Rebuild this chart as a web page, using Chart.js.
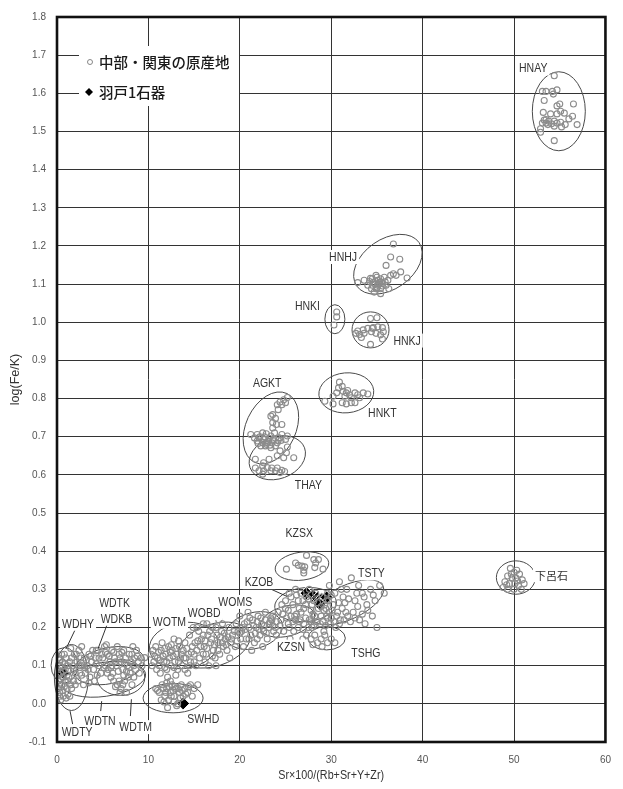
<!DOCTYPE html>
<html>
<head>
<meta charset="utf-8">
<script src="https://cdn.jsdelivr.net/npm/chart.js@4/dist/chart.umd.min.js"></script>
<style>
  html, body { margin: 0; padding: 0; background: #fff; }
  canvas { display: block; }
</style>
</head>
<body>
<canvas id="chart" width="623" height="789"></canvas>
<script>
// axis ticks
const xTicks = [0, 10, 20, 30, 40, 50, 60];
const yTicks = [-0.1, 0, 0.1, 0.2, 0.3, 0.4, 0.5, 0.6, 0.7, 0.8, 0.9, 1.0, 1.1, 1.2, 1.3, 1.4, 1.5, 1.6, 1.7, 1.8];

const legendLabels = ['中部・関東の原産地', '羽戸1石器'];

// source samples, [x, y] = [Sr×100/(Rb+Sr+Y+Zr), log(Fe/K)]
const hnay = [[54.4,1.646],[53.1,1.605],[53.5,1.605],[54.2,1.605],[54.7,1.609],[54.3,1.598],[53.3,1.581],[55.0,1.572],
  [54.7,1.567],[56.5,1.572],[53.2,1.550],[54.0,1.546],[54.7,1.546],[55.1,1.553],[55.5,1.548],[56.4,1.540],[56.0,1.533],
  [53.5,1.531],[53.8,1.527],[54.4,1.527],[53.1,1.522],[53.5,1.522],[54.1,1.520],[54.7,1.522],[55.1,1.524],[55.6,1.518],
  [56.9,1.518],[54.4,1.514],[55.2,1.512],[52.9,1.507],[52.9,1.498],[54.4,1.476],[53.7,1.518],[53.3,1.530]];
const hnhj = [[36.8,1.205],[36.5,1.171],[37.5,1.165],[36.0,1.149],[37.6,1.132],[36.8,1.127],[38.3,1.116],[32.9,1.104],
  [33.6,1.110],[34.2,1.107],[34.5,1.114],[34.9,1.123],[35.1,1.110],[35.4,1.114],[35.8,1.118],[36.2,1.110],[35.6,1.101],
  [35.1,1.097],[34.5,1.097],[34.4,1.088],[34.9,1.088],[35.4,1.088],[36.3,1.088],[34.7,1.079],[35.4,1.075],[34.0,1.097],
  [36.0,1.097],[35.3,1.104],[36.5,1.123],[37.1,1.123],[34.8,1.100],[35.2,1.100],[35.6,1.095],[35.0,1.118],[35.5,1.105],
  [34.6,1.105],[35.9,1.106],[34.3,1.115],[35.0,1.090]];
const hnki = [[30.6,1.027],[30.6,1.014],[30.3,0.993]];
const hnkj = [[34.3,1.010],[35.0,1.012],[34.6,0.986],[35.1,0.988],[35.6,0.986],[34.0,0.984],[33.5,0.980],[32.9,0.977],
  [32.7,0.971],[33.1,0.968],[33.6,0.971],[34.4,0.975],[34.9,0.971],[35.4,0.967],[35.7,0.975],[33.3,0.960],[35.6,0.956],
  [34.3,0.942],[34.5,0.984]];
const hnkt = [[30.9,0.843],[31.2,0.832],[30.8,0.828],[30.6,0.815],[30.2,0.806],[29.3,0.793],[30.2,0.786],[31.3,0.819],
  [31.65,0.815],[31.8,0.821],[31.5,0.806],[32.0,0.810],[32.2,0.802],[32.6,0.815],[32.9,0.810],[33.5,0.815],[34.0,0.812],
  [33.1,0.802],[31.65,0.786],[31.2,0.789],[32.2,0.789],[32.6,0.789]];
const agkt = [[25.2,0.803],[24.8,0.797],[24.4,0.791],[24.1,0.784],[24.6,0.784],[25.0,0.789],[24.2,0.771],[23.6,0.758],
  [23.4,0.754],[23.9,0.748],[23.6,0.737],[24.0,0.732],[24.6,0.732],[23.6,0.723],[23.8,0.710],[23.4,0.702],[22.9,0.708],
  [22.5,0.710],[21.9,0.706],[21.2,0.706],[21.6,0.697],[22.1,0.697],[22.6,0.693],[23.2,0.696],[23.7,0.693],[24.3,0.697],
  [24.6,0.706],[25.2,0.702],[21.9,0.689],[22.5,0.684],[23.0,0.684],[23.5,0.684],[24.1,0.684],[24.5,0.690],[22.3,0.676],
  [22.8,0.676],[23.4,0.671],[23.9,0.676],[25.0,0.693],[22.2,0.700],[22.7,0.700],[23.1,0.688],[23.6,0.690],[22.9,0.680],
  [23.3,0.678],[22.0,0.682],[24.2,0.690]];
const thay = [[25.2,0.673],[24.4,0.663],[25.1,0.658],[24.1,0.650],[24.8,0.645],[25.9,0.645],[23.2,0.641],[21.7,0.641],
  [22.6,0.632],[22.5,0.624],[21.7,0.618],[23.0,0.619],[23.5,0.618],[24.1,0.618],[23.4,0.611],[23.9,0.611],[22.1,0.611],
  [22.6,0.611],[24.6,0.612],[24.4,0.606],[24.9,0.609],[22.5,0.602]];
const kzsx = [[27.3,0.389],[26.1,0.369],[26.4,0.363],[26.8,0.361],[27.1,0.359],[27.0,0.350],[28.1,0.378],[28.6,0.378],
  [28.3,0.369],[28.2,0.357],[29.1,0.353],[25.1,0.353],[27.0,0.343]];
const gero = [[49.6,0.355],[50.0,0.345],[50.3,0.350],[49.3,0.335],[49.8,0.330],[50.2,0.330],[50.6,0.340],[50.9,0.325],
  [49.0,0.320],[49.5,0.315],[50.1,0.315],[50.5,0.310],[51.1,0.315],[48.8,0.305],[49.3,0.300],[50.0,0.300],[50.8,0.300],
  [49.7,0.340],[50.4,0.322],[49.2,0.312]];
const wdWest = [[0.2,0.12],[0.3,0.10],[0.4,0.08],[0.2,0.06],[0.5,0.05],[0.3,0.03],[0.6,0.11],[0.8,0.13],[1.0,0.12],
  [1.2,0.10],[0.9,0.09],[1.3,0.07],[1.5,0.05],[1.1,0.04],[0.7,0.02],[0.4,0.01],[1.0,0.015],[1.4,0.02],[1.6,0.04],
  [1.8,0.06],[2.0,0.08],[1.7,0.10],[2.2,0.11],[1.9,0.13],[2.4,0.14],[2.6,0.12],[2.8,0.10],[2.5,0.08],[2.3,0.06],
  [0.1,0.09],[0.6,0.07],[1.2,0.06],[0.8,0.045],[2.7,0.15],[1.5,0.145],[0.3,0.115],[0.5,0.095],[0.7,0.085],[0.2,0.075],
  [0.4,0.065],[0.9,0.06],[1.1,0.075],[1.3,0.09],[0.6,0.035],[0.2,0.04],[1.2,0.025],[1.8,0.09],[2.1,0.13],[2.4,0.10],
  [2.0,0.05],[0.5,0.13],[1.6,0.12],[1.4,0.11],[0.9,0.105],[0.3,0.02]];
const wdEast = [[3.0,0.12],[3.3,0.10],[3.5,0.13],[3.8,0.11],[4.0,0.09],[4.2,0.12],[4.5,0.14],[4.6,0.10],[4.8,0.08],
  [5.0,0.12],[5.2,0.15],[5.3,0.10],[5.5,0.13],[5.6,0.09],[5.8,0.11],[6.0,0.14],[6.1,0.08],[6.3,0.12],[6.5,0.10],
  [6.6,0.15],[6.8,0.13],[7.0,0.11],[7.2,0.09],[7.3,0.14],[7.5,0.12],[7.7,0.10],[7.9,0.13],[8.1,0.11],[8.3,0.15],
  [8.5,0.12],[8.7,0.14],[8.9,0.11],[9.2,0.12],[3.1,0.08],[3.6,0.07],[4.1,0.06],[2.9,0.05],[6.2,0.06],[6.6,0.05],
  [7.0,0.04],[7.4,0.06],[7.8,0.07],[8.2,0.05],[6.9,0.03],[7.6,0.03],[8.0,0.08],[5.9,0.07],[7.3,0.075],[8.6,0.09],
  [9.0,0.08],[6.4,0.045],[2.6,0.10],[3.9,0.14],[5.4,0.155],[9.6,0.121],[3.2,0.115],[3.4,0.09],[3.7,0.125],[4.3,0.105],
  [4.4,0.075],[4.9,0.13],[5.1,0.095],[5.7,0.125],[5.9,0.095],[6.2,0.135],[6.4,0.11],[6.7,0.085],[6.9,0.12],[7.1,0.135],
  [7.4,0.105],[7.6,0.085],[7.9,0.095],[8.2,0.13],[8.4,0.10],[8.8,0.125],[3.0,0.095],[2.7,0.075],[3.5,0.055],[4.6,0.12],
  [5.3,0.135],[6.0,0.10],[6.8,0.06],[7.2,0.05],[8.4,0.07],[5.5,0.08],[4.3,0.14],[9.3,0.10]];
const wotm = [[10.3,0.13],[10.6,0.11],[10.8,0.15],[11.0,0.12],[11.2,0.10],[11.4,0.14],[11.5,0.16],[11.7,0.11],[11.9,0.13],
  [12.0,0.09],[12.2,0.15],[12.3,0.12],[12.5,0.10],[12.6,0.14],[12.8,0.17],[12.9,0.11],[13.1,0.13],[13.2,0.09],[13.4,0.15],
  [13.5,0.12],[13.7,0.10],[13.8,0.14],[14.0,0.16],[14.1,0.12],[14.3,0.08],[14.4,0.13],[14.6,0.11],[14.8,0.15],[11.3,0.08],
  [12.1,0.07],[10.9,0.09],[13.0,0.075],[10.5,0.14],[10.7,0.125],[11.1,0.135],[11.3,0.115],[11.6,0.125],[11.8,0.145],
  [12.0,0.11],[12.4,0.135],[12.7,0.125],[13.0,0.145],[13.3,0.11],[13.6,0.13],[13.9,0.12],[14.2,0.145],[14.5,0.10],
  [14.7,0.135],[12.5,0.155],[13.3,0.165],[10.4,0.10],[11.8,0.095],[12.8,0.095],[14.0,0.09],[15.0,0.13],[15.2,0.10]];
const wobd = [[14.5,0.18],[14.9,0.20],[15.1,0.16],[15.3,0.14],[15.5,0.19],[15.6,0.12],[15.8,0.17],[16.0,0.21],[16.1,0.15],
  [16.3,0.13],[16.5,0.18],[16.6,0.10],[16.8,0.16],[17.0,0.20],[17.1,0.14],[17.3,0.12],[17.5,0.18],[17.6,0.16],[17.8,0.13],
  [18.0,0.19],[18.2,0.15],[18.4,0.17],[18.6,0.14],[18.8,0.20],[19.0,0.16],[19.2,0.18],[19.5,0.15],[19.8,0.19],[20.1,0.17],
  [16.2,0.11],[17.4,0.10],[15.0,0.11],[15.9,0.23],[17.7,0.22],[18.9,0.12],[15.4,0.165],[15.7,0.15],[16.0,0.18],
  [16.2,0.165],[16.4,0.145],[16.7,0.19],[16.9,0.17],[17.2,0.155],[17.4,0.20],[17.6,0.14],[17.9,0.175],[18.1,0.16],
  [18.3,0.185],[18.5,0.155],[18.7,0.175],[19.1,0.17],[19.4,0.19],[19.7,0.165],[20.0,0.185],[20.3,0.20],[16.0,0.13],
  [17.0,0.125],[15.3,0.20],[16.4,0.21],[18.1,0.21]];
const woms = [[19.6,0.21],[20.0,0.23],[20.2,0.19],[20.5,0.21],[20.7,0.17],[20.9,0.24],[21.0,0.20],[21.2,0.18],[21.4,0.22],
  [21.6,0.16],[21.8,0.20],[22.0,0.23],[22.2,0.18],[22.4,0.21],[22.6,0.19],[22.8,0.22],[23.0,0.17],[23.2,0.20],[23.5,0.22],
  [23.7,0.19],[21.3,0.14],[22.5,0.15],[20.4,0.15],[20.6,0.195],[20.8,0.215],[21.1,0.225],[21.5,0.205],[21.7,0.185],
  [21.9,0.215],[22.1,0.195],[22.3,0.225],[22.7,0.205],[22.9,0.185],[23.3,0.215],[23.6,0.205],[21.0,0.17],[21.9,0.17]];
const kzsn = [[22.8,0.24],[23.2,0.21],[23.6,0.23],[23.9,0.20],[24.2,0.24],[24.5,0.22],[24.8,0.19],[25.0,0.25],[25.3,0.21],
  [25.6,0.23],[25.9,0.19],[26.1,0.22],[26.4,0.20],[26.7,0.24],[27.0,0.21],[27.3,0.18],[27.6,0.22],[27.9,0.20],[28.2,0.23],
  [24.0,0.18],[25.5,0.17],[26.9,0.17],[23.4,0.225],[24.0,0.215],[24.4,0.205],[24.7,0.235],[25.1,0.225],[25.4,0.20],
  [25.8,0.215],[26.2,0.235],[26.5,0.215],[26.9,0.195],[27.2,0.225],[27.5,0.20],[27.8,0.215],[28.1,0.205],[28.4,0.215]];
const kzob = [[25.0,0.27],[25.4,0.29],[25.8,0.26],[26.1,0.30],[26.4,0.27],[26.7,0.29],[27.0,0.25],[27.3,0.28],[27.6,0.30],
  [27.9,0.26],[28.3,0.29],[28.6,0.25],[29.0,0.28],[29.3,0.26],[29.6,0.29],[26.0,0.23],[26.6,0.22],[24.6,0.26],[25.3,0.245],
  [28.0,0.235],[25.6,0.28],[26.2,0.285],[26.5,0.25],[26.9,0.27],[27.2,0.26],[27.5,0.275],[27.8,0.245],[28.1,0.27],
  [28.5,0.265],[28.9,0.255],[29.2,0.245],[29.5,0.27]];
const tsty = [[29.8,0.31],[30.4,0.29],[30.9,0.32],[31.3,0.28],[31.7,0.30],[32.2,0.33],[32.6,0.27],[33.0,0.31],[33.4,0.29],
  [33.9,0.26],[34.3,0.30],[34.8,0.27],[35.3,0.31],[35.8,0.29],[30.2,0.26],[30.7,0.24],[31.2,0.25],[31.8,0.23],[32.4,0.24],
  [33.1,0.22],[33.7,0.21],[34.5,0.23],[29.5,0.23],[29.9,0.21],[30.5,0.20],[31.0,0.22],[28.8,0.21],[29.2,0.19],[35.0,0.20],
  [29.7,0.27],[31.5,0.265],[32.9,0.255],[28.9,0.23],[29.1,0.215],[29.4,0.205],[29.6,0.225],[29.8,0.24],[30.0,0.225],
  [30.3,0.215],[30.1,0.245],[30.6,0.23],[30.9,0.21],[31.4,0.22],[31.6,0.24],[32.1,0.215],[32.6,0.225],[33.4,0.235],
  [34.0,0.245],[30.8,0.265],[31.9,0.275],[32.8,0.29],[33.6,0.28],[34.6,0.285],[29.4,0.25],[31.1,0.30],[30.0,0.285]];
const tshg = [[27.8,0.17],[28.2,0.18],[28.5,0.16],[28.9,0.17],[29.3,0.18],[29.6,0.16],[30.0,0.17],[28.0,0.155],[29.0,0.15],
  [30.4,0.16]];
const swhd = [[10.8,0.04],[11.2,0.03],[11.5,0.05],[11.8,0.02],[12.0,0.04],[12.2,0.01],[12.4,0.03],[12.6,0.05],[12.8,0.02],
  [13.0,0.04],[13.2,0.00],[13.4,0.03],[13.6,0.05],[13.8,0.02],[14.0,0.04],[14.3,0.03],[14.6,0.05],[15.0,0.04],[15.4,0.05],
  [12.1,-0.01],[13.1,-0.005],[11.4,0.01],[14.8,0.02],[11.0,0.035],[11.6,0.04],[11.9,0.03],[12.3,0.045],[12.5,0.02],
  [12.7,0.035],[12.9,0.045],[13.3,0.04],[13.5,0.015],[13.7,0.035],[14.1,0.025],[14.4,0.045],[12.0,0.055],[12.4,0.06],
  [11.7,0.005],[12.8,0.005]];

// artifacts
const hadoX = [0.7, 13.8, 27.3, 28.0, 28.5, 28.9, 29.5, 28.7];
const hadoY = [0.081, 0.001, 0.290, 0.283, 0.277, 0.274, 0.279, 0.262];

const sourceClouds = [hnay, hnhj, hnki, hnkj, hnkt, agkt, thay, kzsx, gero, wdWest, wdEast, wotm, wobd, woms, kzsn, kzob, tsty, tshg, swhd];
const sourcePoints = [];
sourceClouds.forEach(c => c.forEach(p => sourcePoints.push({ x: p[0], y: p[1] })));
const hadoPoints = hadoX.map((x, i) => ({ x: x, y: hadoY[i] }));

// source ellipses: centre in data units, semi axes in px, rotation in degrees
const ellipses = [
  { x: 54.9, y: 1.553, rx: 26.5, ry: 39.5, rot: 0 },   // HNAY
  { x: 36.2, y: 1.152, rx: 38, ry: 25, rot: -35 },     // HNHJ
  { x: 30.4, y: 1.008, rx: 10, ry: 14.5, rot: 0 },     // HNKI
  { x: 34.3, y: 0.980, rx: 18.5, ry: 18, rot: 0 },     // HNKJ
  { x: 31.65, y: 0.815, rx: 27.5, ry: 20, rot: -5 },   // HNKT
  { x: 23.4, y: 0.723, rx: 38, ry: 25, rot: -65 },     // AGKT
  { x: 24.1, y: 0.645, rx: 29, ry: 21, rot: -20 },     // THAY
  { x: 26.8, y: 0.361, rx: 27, ry: 14, rot: -8 },      // KZSX
  { x: 31.8, y: 0.266, rx: 39, ry: 17, rot: -25 },     // TSTY
  { x: 27.2, y: 0.260, rx: 31, ry: 17, rot: -5 },      // KZOB
  { x: 25.2, y: 0.217, rx: 28, ry: 15, rot: -15 },     // KZSN
  { x: 29.5, y: 0.172, rx: 18.7, ry: 11.7, rot: 0 },   // TSHG
  { x: 21.56, y: 0.192, rx: 29, ry: 18, rot: -15 },    // WOMS
  { x: 17.2, y: 0.154, rx: 37, ry: 21, rot: -18 },     // WOBD
  { x: 13.85, y: 0.153, rx: 34.5, ry: 23, rot: -8 },   // WOTM
  { x: 12.7, y: 0.015, rx: 30, ry: 14.7, rot: 0 },     // SWHD
  { x: 0.81, y: 0.101, rx: 13.3, ry: 17.7, rot: 0 },   // WDHY
  { x: 1.57, y: 0.069, rx: 17, ry: 33, rot: 0 },       // WDTY
  { x: 5.68, y: 0.100, rx: 36, ry: 18, rot: -12 },     // WDKB
  { x: 5.14, y: 0.064, rx: 42, ry: 17, rot: -8 },      // WDTN
  { x: 6.98, y: 0.069, rx: 24, ry: 18, rot: 0 },       // WDTM
  { x: 50.2, y: 0.331, rx: 19.5, ry: 16.7, rot: 0 }    // 下呂石
];

// source names: centre of text in data units
const names = [
  { t: 'HNAY', x: 52.1, y: 1.665 }, { t: 'HNHJ', x: 31.3, y: 1.171 }, { t: 'HNKI', x: 27.4, y: 1.043 },
  { t: 'HNKJ', x: 38.3, y: 0.952 }, { t: 'HNKT', x: 35.6, y: 0.762 }, { t: 'AGKT', x: 23.0, y: 0.842 },
  { t: 'THAY', x: 27.5, y: 0.574 }, { t: 'KZSX', x: 26.5, y: 0.447 }, { t: 'TSTY', x: 34.4, y: 0.342 },
  { t: 'KZOB', x: 22.1, y: 0.319 }, { t: 'KZSN', x: 25.6, y: 0.150 }, { t: 'TSHG', x: 33.8, y: 0.134 },
  { t: 'WOMS', x: 19.5, y: 0.267 }, { t: 'WOBD', x: 16.1, y: 0.238 }, { t: 'WOTM', x: 12.3, y: 0.215 },
  { t: 'SWHD', x: 16.0, y: -0.040 }, { t: 'WDHY', x: 2.3, y: 0.210 }, { t: 'WDTK', x: 6.3, y: 0.264 },
  { t: 'WDKB', x: 6.5, y: 0.223 }, { t: 'WDTN', x: 4.7, y: -0.045 }, { t: 'WDTY', x: 2.2, y: -0.074 },
  { t: 'WDTM', x: 8.6, y: -0.061 }, { t: '下呂石', x: 54.1, y: 0.337 }
];

// leader lines, data units
const leaders = [
  [23.0, 0.305, 25.2, 0.281], [2.08, 0.199, 1.0, 0.145], [5.47, 0.207, 4.5, 0.145],
  [1.71, -0.053, 1.43, -0.019], [4.78, -0.019, 4.89, 0.007], [8.03, -0.032, 8.14, 0.012]
];

const LATIN = '"Liberation Sans", Arial, sans-serif';
const CJK = '"Noto Sans CJK JP", "Noto Sans", sans-serif';

// narrow text: the original uses a condensed face
function narrowText(ctx, text, x, y, squeeze) {
  ctx.save();
  ctx.translate(x, y);
  ctx.scale(squeeze, 1);
  ctx.fillText(text, 0, 0);
  ctx.restore();
}

const overlay = {
  id: 'overlay',
  beforeDatasetsDraw(chart) {
    const { ctx, scales: { x, y } } = chart;
    ctx.save();
    ctx.strokeStyle = '#4a4a4a';
    ctx.lineWidth = 1;
    ellipses.forEach(e => {
      ctx.beginPath();
      ctx.ellipse(x.getPixelForValue(e.x), y.getPixelForValue(e.y), e.rx, e.ry, e.rot * Math.PI / 180, 0, Math.PI * 2);
      ctx.stroke();
    });
    ctx.restore();
  },
  afterDraw(chart) {
    const { ctx, chartArea: a, scales: { x, y } } = chart;
    ctx.save();

    // leader lines
    ctx.strokeStyle = '#333';
    ctx.lineWidth = 1;
    leaders.forEach(l => {
      ctx.beginPath();
      ctx.moveTo(x.getPixelForValue(l[0]), y.getPixelForValue(l[1]));
      ctx.lineTo(x.getPixelForValue(l[2]), y.getPixelForValue(l[3]));
      ctx.stroke();
    });

    // names with white box
    ctx.textAlign = 'center';
    ctx.textBaseline = 'middle';
    names.forEach(n => {
      const cjk = /[^\x00-\x7f]/.test(n.t);
      ctx.font = cjk ? '11px ' + CJK : '12.5px ' + LATIN;
      const sq = cjk ? 1 : 0.84;
      const px = x.getPixelForValue(n.x), py = y.getPixelForValue(n.y);
      const w = ctx.measureText(n.t).width * sq;
      ctx.fillStyle = '#fff';
      ctx.fillRect(px - w / 2 - 2, py - 7, w + 4, 14);
      ctx.fillStyle = '#333';
      narrowText(ctx, n.t, px, py + 0.5, sq);
    });

    // legend
    ctx.fillStyle = '#fff';
    ctx.fillRect(79, 46, 160, 60);
    ctx.textAlign = 'left';
    ctx.font = '500 14.5px ' + CJK;
    ctx.fillStyle = '#1a1a1a';
    ctx.fillText(legendLabels[0], 99, 62);
    ctx.fillText(legendLabels[1], 99, 92);
    ctx.strokeStyle = '#888';
    ctx.beginPath();
    ctx.arc(90, 62, 2.5, 0, Math.PI * 2);
    ctx.stroke();
    ctx.fillStyle = '#000';
    ctx.beginPath();
    ctx.moveTo(89, 88); ctx.lineTo(93, 92); ctx.lineTo(89, 96); ctx.lineTo(85, 92);
    ctx.closePath();
    ctx.fill();

    // frame
    ctx.strokeStyle = '#111';
    ctx.lineWidth = 2.6;
    ctx.strokeRect(a.left, a.top, a.right - a.left, a.bottom - a.top);

    // axis titles
    ctx.fillStyle = '#333';
    ctx.font = '12.5px ' + LATIN;
    ctx.textAlign = 'center';
    narrowText(ctx, 'Sr×100/(Rb+Sr+Y+Zr)', (a.left + a.right) / 2, 776, 0.86);
    ctx.translate(16, (a.top + a.bottom) / 2);
    ctx.rotate(-Math.PI / 2);
    ctx.fillText('log(Fe/K)', 0, 0);
    ctx.restore();
  }
};

new Chart(document.getElementById('chart'), {
  type: 'scatter',
  data: {
    datasets: [
      {
        label: legendLabels[0],
        data: sourcePoints,
        pointStyle: 'circle',
        pointRadius: 3,
        pointBorderWidth: 1.1,
        borderColor: '#8c8c8c',
        backgroundColor: 'rgba(255,255,255,0)'
      },
      {
        label: legendLabels[1],
        data: hadoPoints,
        pointStyle: 'rectRot',
        pointRadius: 6.5,
        pointBorderWidth: 1,
        borderColor: '#fff',
        backgroundColor: '#000'
      }
    ]
  },
  options: {
    responsive: false,
    animation: false,
    layout: { padding: { top: 12, right: 11, left: 0, bottom: 0 } },
    plugins: { legend: { display: false }, tooltip: { enabled: false } },
    scales: {
      x: {
        type: 'linear', min: 0, max: 60,
        afterBuildTicks: s => { s.ticks = xTicks.map(v => ({ value: v })); },
        afterFit: s => { s.height = 47; },
        grid: { color: '#333', lineWidth: 1, drawTicks: false },
        border: { display: false },
        ticks: { padding: 12, color: '#555', font: { family: LATIN, size: 10 } }
      },
      y: {
        type: 'linear', min: -0.1, max: 1.8,
        afterBuildTicks: s => { s.ticks = yTicks.map(v => ({ value: v })); },
        afterFit: s => { s.width = 57; },
        grid: { color: '#333', lineWidth: 1, drawTicks: false },
        border: { display: false },
        ticks: { padding: 11, color: '#555', font: { family: LATIN, size: 10 }, callback: v => v.toFixed(1) }
      }
    }
  },
  plugins: [overlay]
});
</script>
</body>
</html>
